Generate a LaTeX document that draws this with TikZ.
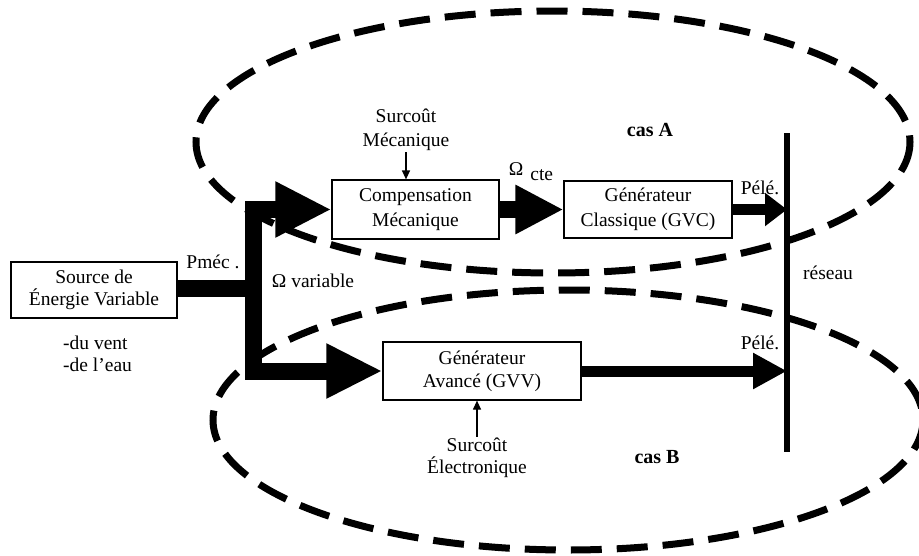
\documentclass[tikz,border=0pt]{standalone}
\usepackage{fontspec}
\setmainfont{Liberation Serif}
\usetikzlibrary{arrows.meta}
\begin{document}
\begin{tikzpicture}[x=1pt,y=-1pt,
  box/.style={draw,line width=1.2pt,rectangle,inner sep=0pt,align=center,font=\fontsize{19.5}{25}\selectfont},
  lbl/.style={inner sep=1pt,align=center,font=\fontsize{19.5}{24}\selectfont},
  caslbl/.style={inner sep=1pt,font=\fontsize{20}{22}\selectfont\bfseries},
  zone/.style={draw,line width=7pt,dash pattern=on 31pt off 15pt},
  bigflow/.style={line width=17pt,line join=miter},
  smallarrow/.style={line width=1.2pt,-{Triangle[length=9pt,width=8pt]}}
]
\useasboundingbox (0,0) rectangle (919,555);
% zones
\draw[zone] (553,142) ellipse [x radius=357, y radius=131];
\draw[zone] (568,420) ellipse [x radius=355, y radius=130];
% blocks
\node[box,minimum width=166pt,minimum height=56pt,font=\fontsize{19.5}{22}\selectfont] (src) at (94,290) {Source de\\Énergie Variable};
\node[box,minimum width=167pt,minimum height=59pt] (comp) at (415.5,209.5) {Compensation\\Mécanique};
\node[box,minimum width=168pt,minimum height=57pt] (gvc) at (648,209.5) {Générateur\\Classique (GVC)};
\node[box,minimum width=198pt,minimum height=58pt,font=\fontsize{19.5}{23}\selectfont] (gvv) at (482,371) {Générateur\\Avancé (GVV)};
% network bus
\coordinate (rtop) at (787,133);
\coordinate (rbot) at (787,452);
\coordinate (rA) at (787,209.5);
\coordinate (rB) at (787,371);
\draw[line width=5.5pt] (rtop) -- (rbot);
% trunk
\coordinate (jt) at (253,209.5);
\coordinate (jm) at (253,288);
\coordinate (jb) at (253,371);
\draw[bigflow] (src.east |- jm) -- (jm);
\draw[bigflow,{Triangle[length=56pt,width=52pt]}-{Triangle[length=56pt,width=51pt]}] (comp.west) -- (jt) -- (jb) -- (gvv.west);
\draw[bigflow,-{Triangle[length=48pt,width=46pt]}] (comp.east) -- (gvc.west);
\draw[line width=11pt,-{Triangle[length=22pt,width=32pt]}] (gvc.east) -- (rA);
\draw[line width=11pt,-{Triangle[length=34pt,width=34pt]}] (gvv.east) -- (rB);
% labels
\node[lbl,align=left,anchor=west,font=\fontsize{19.5}{22}\selectfont] (nat) at (62,354) {-du vent\\-de l’eau};
\node[lbl] (pmec) at (213,262) {Pméc .};
\node[lbl] (omv) at (313,281) {Ω variable};
\node[lbl] (omc) at (531,172) {Ω\hspace{7pt}\raisebox{-5pt}{cte}};
\node[lbl] (sm) at (406,130) {Surcoût\\Mécanique};
\draw[smallarrow] (sm.south) -- (sm.south |- comp.north);
\node[lbl,font=\fontsize{19.5}{22}\selectfont] (se) at (477,458) {Surcoût\\Électronique};
\draw[smallarrow] (se.north) -- (se.north |- gvv.south);
\node[caslbl] (casA) at (650,130) {cas A};
\node[caslbl] (casB) at (657,457) {cas B};
\node[lbl] (pA) at (760,188) {Pélé.};
\node[lbl] (pB) at (760,343) {Pélé.};
\node[lbl] (res) at (828,273) {réseau};
\end{tikzpicture}
\end{document}
